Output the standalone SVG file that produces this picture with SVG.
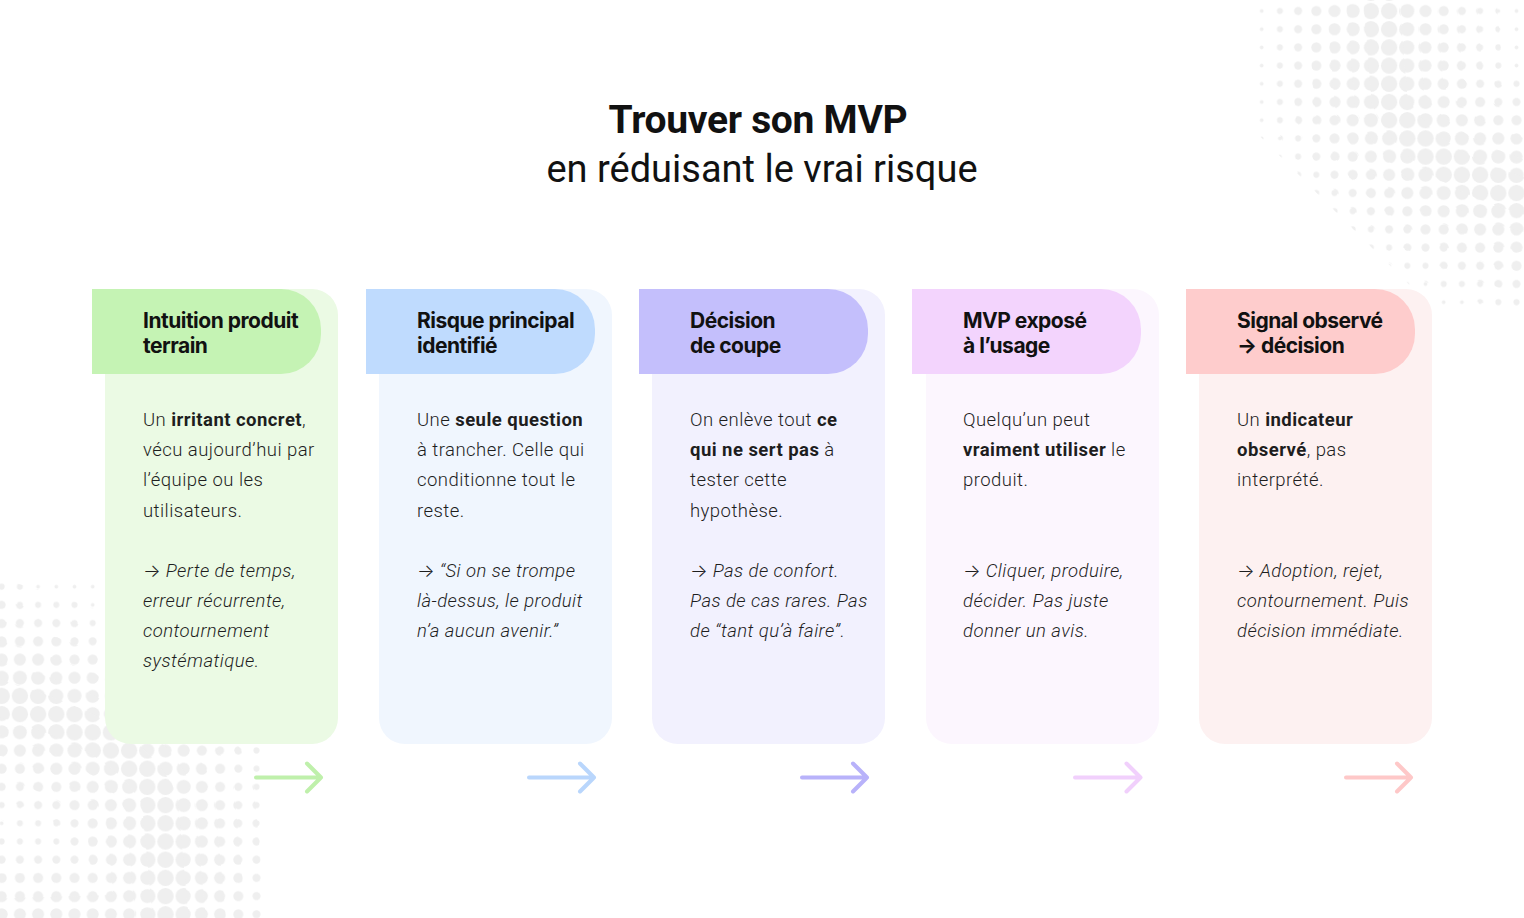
<svg xmlns="http://www.w3.org/2000/svg" width="1524" height="918" viewBox="0 0 1524 918">
<style>
.h{font-family:Inter,"Liberation Sans",sans-serif;font-weight:700;font-size:21px;letter-spacing:-0.5px;fill:#111}
.b{font-family:Roboto,"Liberation Sans",sans-serif;font-weight:300;font-size:18.5px;letter-spacing:0.45px;fill:#1e1e1e}
.s{font-weight:700}
.i{font-style:italic}
.a{font-family:Inter,"DejaVu Sans",sans-serif;font-weight:300;font-style:normal;letter-spacing:0}
.t1{font-family:Roboto,"Liberation Sans",sans-serif;font-weight:700;font-size:39px;fill:#111;letter-spacing:-0.3px}
.t2{font-family:Roboto,"Liberation Sans",sans-serif;font-weight:400;font-size:38px;fill:#111}
.arr{fill:none;stroke-width:4;stroke-linecap:round;stroke-linejoin:round}
.dot{fill:#efefef}
.rg{fill:none;stroke:#fff;stroke-linecap:round;stroke-linejoin:round}
</style>
<defs>
<pattern id="p2" x="0" y="0" width="18.2" height="18.2" patternUnits="userSpaceOnUse"><circle class="dot" cx="9.1" cy="9.1" r="1.9"/></pattern>
<pattern id="p3" x="0" y="0" width="18.2" height="18.2" patternUnits="userSpaceOnUse"><circle class="dot" cx="9.1" cy="9.1" r="3"/></pattern>
<pattern id="p4" x="0" y="0" width="18.2" height="18.2" patternUnits="userSpaceOnUse"><circle class="dot" cx="9.1" cy="9.1" r="4"/></pattern>
<pattern id="p5" x="0" y="0" width="18.2" height="18.2" patternUnits="userSpaceOnUse"><circle class="dot" cx="9.1" cy="9.1" r="5"/></pattern>
<pattern id="p6" x="0" y="0" width="18.2" height="18.2" patternUnits="userSpaceOnUse"><circle class="dot" cx="9.1" cy="9.1" r="6"/></pattern>
<pattern id="p7" x="0" y="0" width="18.2" height="18.2" patternUnits="userSpaceOnUse"><circle class="dot" cx="9.1" cy="9.1" r="7"/></pattern>
<pattern id="p8" x="0" y="0" width="18.2" height="18.2" patternUnits="userSpaceOnUse"><circle class="dot" cx="9.1" cy="9.1" r="8.2"/></pattern>
<clipPath id="trclip"><polygon points="-1,-2 272,-2 272,310 184,310 -1,126"/></clipPath>
<mask id="tr3"><path class="rg" stroke-width="230" d="M127,-22 L137,98 Q167,168 287,198 L350,208"/></mask>
<mask id="tr4"><path class="rg" stroke-width="190" d="M127,-22 L137,98 Q167,168 287,198 L350,208"/></mask>
<mask id="tr5"><path class="rg" stroke-width="150" d="M127,-22 L137,98 Q167,168 287,198 L350,208"/></mask>
<mask id="tr6"><path class="rg" stroke-width="110" d="M127,-22 L137,98 Q167,168 287,198 L350,208"/></mask>
<mask id="tr7"><path class="rg" stroke-width="70" d="M127,-22 L137,98 Q167,168 287,198 L350,208"/></mask>
<mask id="tr8"><path class="rg" stroke-width="36" d="M127,-22 L137,98 Q167,168 287,198 L350,208"/></mask>
<mask id="bl3"><path class="rg" stroke-width="230" d="M-22,112 C67,137 137,162 167,222 L182,382"/><path class="rg" stroke-width="230" d="M-22,372 L127,367"/></mask>
<mask id="bl4"><path class="rg" stroke-width="190" d="M-22,112 C67,137 137,162 167,222 L182,382"/><path class="rg" stroke-width="190" d="M-22,372 L127,367"/></mask>
<mask id="bl5"><path class="rg" stroke-width="150" d="M-22,112 C67,137 137,162 167,222 L182,382"/><path class="rg" stroke-width="150" d="M-22,372 L127,367"/></mask>
<mask id="bl6"><path class="rg" stroke-width="110" d="M-22,112 C67,137 137,162 167,222 L182,382"/><path class="rg" stroke-width="100" d="M-22,372 L127,367"/></mask>
<mask id="bl7"><path class="rg" stroke-width="70" d="M-22,112 C67,137 137,162 167,222 L182,382"/></mask>
<mask id="bl8"><path class="rg" stroke-width="36" d="M-22,112 C67,137 137,162 167,222 L182,382"/></mask>
</defs>
<rect width="1524" height="918" fill="#fff"/>
<g id="dots-top-right" transform="translate(1252.6,1.9)" clip-path="url(#trclip)">
<rect x="-5" y="-5" width="290" height="320" fill="url(#p2)"/>
<rect x="-5" y="-5" width="290" height="320" fill="url(#p3)" mask="url(#tr3)"/>
<rect x="-5" y="-5" width="290" height="320" fill="url(#p4)" mask="url(#tr4)"/>
<rect x="-5" y="-5" width="290" height="320" fill="url(#p5)" mask="url(#tr5)"/>
<rect x="-5" y="-5" width="290" height="320" fill="url(#p6)" mask="url(#tr6)"/>
<rect x="-5" y="-5" width="290" height="320" fill="url(#p7)" mask="url(#tr7)"/>
<rect x="-5" y="-5" width="290" height="320" fill="url(#p8)" mask="url(#tr8)"/>
</g>
<g id="dots-bottom-left" transform="translate(-7.4,577.6)">
<rect x="0" y="0" width="273" height="345" fill="url(#p2)"/>
<rect x="0" y="0" width="273" height="345" fill="url(#p3)" mask="url(#bl3)"/>
<rect x="0" y="0" width="273" height="345" fill="url(#p4)" mask="url(#bl4)"/>
<rect x="0" y="0" width="273" height="345" fill="url(#p5)" mask="url(#bl5)"/>
<rect x="0" y="0" width="273" height="345" fill="url(#p6)" mask="url(#bl6)"/>
<rect x="0" y="0" width="273" height="345" fill="url(#p7)" mask="url(#bl7)"/>
<rect x="0" y="0" width="273" height="345" fill="url(#p8)" mask="url(#bl8)"/>
</g>
<g id="title">
<text class="t1" x="758" y="133" text-anchor="middle">Trouver son MVP</text>
<text class="t2" x="762" y="182" text-anchor="middle">en réduisant le vrai risque</text>
</g>
<g id="card-1">
<rect x="105" y="289" width="233" height="455" rx="26" fill="#ebfae4"/>
<path d="M92,289 H281 A40,40 0 0 1 321,329 V334 A40,40 0 0 1 281,374 H92 Z" fill="#c5f3b4"/>
<text class="h" x="143" y="328">Intuition produit</text>
<text class="h" x="143" y="353">terrain</text>
<text class="b" x="143" y="426">Un <tspan class="s">irritant concret</tspan>,</text>
<text class="b" x="143" y="456">vécu aujourd’hui par</text>
<text class="b" x="143" y="486">l’équipe ou les</text>
<text class="b" x="143" y="517">utilisateurs.</text>
<text class="b" x="143" y="577"><tspan class="a">→</tspan> <tspan class="i">Perte de temps,</tspan></text>
<text class="b i" x="143" y="607">erreur récurrente,</text>
<text class="b i" x="143" y="637">contournement</text>
<text class="b i" x="143" y="667">systématique.</text>
</g>
<g id="card-2">
<rect x="379" y="289" width="233" height="455" rx="26" fill="#f0f6fe"/>
<path d="M366,289 H555 A40,40 0 0 1 595,329 V334 A40,40 0 0 1 555,374 H366 Z" fill="#bfdbfe"/>
<text class="h" x="417" y="328">Risque principal</text>
<text class="h" x="417" y="353">identifié</text>
<text class="b" x="417" y="426">Une <tspan class="s">seule question</tspan></text>
<text class="b" x="417" y="456">à trancher. Celle qui</text>
<text class="b" x="417" y="486">conditionne tout le</text>
<text class="b" x="417" y="517">reste.</text>
<text class="b" x="417" y="577"><tspan class="a">→</tspan> <tspan class="i">“Si on se trompe</tspan></text>
<text class="b i" x="417" y="607">là-dessus, le produit</text>
<text class="b i" x="417" y="637">n’a aucun avenir.”</text>
</g>
<g id="card-3">
<rect x="652" y="289" width="233" height="455" rx="26" fill="#f2f1fe"/>
<path d="M639,289 H828 A40,40 0 0 1 868,329 V334 A40,40 0 0 1 828,374 H639 Z" fill="#c4bffc"/>
<text class="h" x="690" y="328">Décision</text>
<text class="h" x="690" y="353">de coupe</text>
<text class="b" x="690" y="426">On enlève tout <tspan class="s">ce</tspan></text>
<text class="b" x="690" y="456"><tspan class="s">qui ne sert pas</tspan> à</text>
<text class="b" x="690" y="486">tester cette</text>
<text class="b" x="690" y="517">hypothèse.</text>
<text class="b" x="690" y="577"><tspan class="a">→</tspan> <tspan class="i">Pas de confort.</tspan></text>
<text class="b i" x="690" y="607">Pas de cas rares. Pas</text>
<text class="b i" x="690" y="637">de “tant qu’à faire”.</text>
</g>
<g id="card-4">
<rect x="926" y="289" width="233" height="455" rx="26" fill="#fcf6fe"/>
<path d="M912,289 H1101 A40,40 0 0 1 1141,329 V334 A40,40 0 0 1 1101,374 H912 Z" fill="#f3d4fd"/>
<text class="h" x="963" y="328">MVP exposé</text>
<text class="h" x="963" y="353">à l’usage</text>
<text class="b" x="963" y="426">Quelqu’un peut</text>
<text class="b" x="963" y="456"><tspan class="s">vraiment utiliser</tspan> le</text>
<text class="b" x="963" y="486">produit.</text>
<text class="b" x="963" y="577"><tspan class="a">→</tspan> <tspan class="i">Cliquer, produire,</tspan></text>
<text class="b i" x="963" y="607">décider. Pas juste</text>
<text class="b i" x="963" y="637">donner un avis.</text>
</g>
<g id="card-5">
<rect x="1199" y="289" width="233" height="455" rx="26" fill="#fdf1f1"/>
<path d="M1186,289 H1375 A40,40 0 0 1 1415,329 V334 A40,40 0 0 1 1375,374 H1186 Z" fill="#fecccc"/>
<text class="h" x="1237" y="328">Signal observé</text>
<text class="h" x="1237" y="353">→ décision</text>
<text class="b" x="1237" y="426">Un <tspan class="s">indicateur</tspan></text>
<text class="b" x="1237" y="456"><tspan class="s">observé</tspan>, pas</text>
<text class="b" x="1237" y="486">interprété.</text>
<text class="b" x="1237" y="577"><tspan class="a">→</tspan> <tspan class="i">Adoption, rejet,</tspan></text>
<text class="b i" x="1237" y="607">contournement. Puis</text>
<text class="b i" x="1237" y="637">décision immédiate.</text>
</g>
<g id="connectors">
<path class="arr" stroke="#bff0ab" d="M256,777.5 H321 M307,763.5 L321,777.5 L307,791.5"/>
<path class="arr" stroke="#b9d6fc" d="M529,777.5 H594 M580,763.5 L594,777.5 L580,791.5"/>
<path class="arr" stroke="#b8b2fa" d="M802,777.5 H867 M853,763.5 L867,777.5 L853,791.5"/>
<path class="arr" stroke="#f1d0fc" d="M1075,777.5 H1140.5 M1126.5,763.5 L1140.5,777.5 L1126.5,791.5"/>
<path class="arr" stroke="#fec8c8" d="M1346,777.5 H1411 M1397,763.5 L1411,777.5 L1397,791.5"/>
</g>
</svg>
